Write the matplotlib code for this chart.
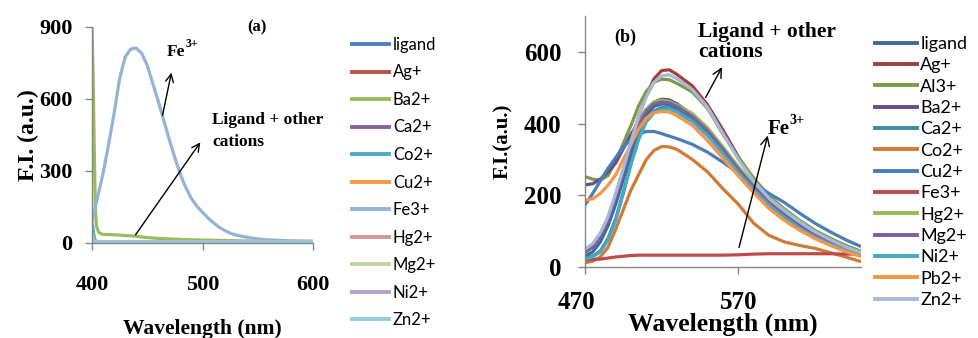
import matplotlib
matplotlib.use("Agg")
import matplotlib.pyplot as plt
from matplotlib.lines import Line2D
from matplotlib.transforms import ScaledTranslation

# ---------------- panel (a): emission spectra, excitation region ----------------
wl_a = [400, 401, 402, 403, 404, 406, 408, 410, 415, 420, 425, 430, 435, 440, 445,
        450, 455, 460, 465, 470, 475, 480, 485, 490, 495, 500, 505, 510, 515, 520,
        525, 530, 540, 550, 560, 570, 580, 590, 600]
fe_a = [90, 110, 130, 150, 170, 210, 250, 290, 410, 540, 685, 775, 808, 812, 790,
        740, 665, 590, 510, 430, 355, 285, 230, 185, 153, 128, 104, 84, 66, 52,
        41, 33, 24, 17, 13, 11, 9, 8, 7]
ba_a = [900, 700, 400, 150, 70, 45, 39, 36, 35, 34, 33, 31, 30, 28, 25,
        23, 21, 19, 18, 17, 16, 15, 14, 13, 13, 12, 12, 11, 11, 10,
        10, 9, 8, 7, 6, 5, 5, 4, 4]

wl_a_minor = [400, 401, 402, 403, 404, 406, 410, 450, 500, 550, 600]
ligand_a = [20, 10, 6, 5, 4, 4, 4, 4, 4, 4, 4]
ag_a = [25, 12, 7, 5, 4, 4, 4, 4, 4, 4, 4]
ca_a = [20, 10, 6, 5, 4, 4, 4, 4, 4, 4, 3]
co_a = [85, 55, 25, 10, 5, 4, 3, 3, 3, 3, 2]
cu_a = [15, 8, 5, 4, 4, 4, 5, 6, 5, 4, 3]
hg_a = [45, 25, 12, 8, 6, 6, 6, 6, 6, 7, 7]
mg_a = [15, 8, 5, 4, 4, 4, 4, 4, 4, 4, 3]
ni_a = [20, 10, 6, 5, 4, 4, 4, 4, 4, 4, 3]
zn_a = [30, 15, 8, 6, 5, 5, 5, 5, 5, 5, 5]

labels_a = ["ligand", "Ag+", "Ba2+", "Ca2+", "Co2+", "Cu2+", "Fe3+",
            "Hg2+", "Mg2+", "Ni2+", "Zn2+"]
colors_a = ["#4F81BD", "#C0504D", "#9BBB59", "#8064A2", "#4BACC6", "#F79646",
            "#95B3D7", "#D99694", "#C3D69B", "#B3A2C7", "#93CDDD"]
series_a = [(wl_a_minor, ligand_a), (wl_a_minor, ag_a), (wl_a, ba_a),
            (wl_a_minor, ca_a), (wl_a_minor, co_a), (wl_a_minor, cu_a),
            (wl_a, fe_a), (wl_a_minor, hg_a), (wl_a_minor, mg_a),
            (wl_a_minor, ni_a), (wl_a_minor, zn_a)]
xticks_a = [400, 500, 600]
yticks_a = [0, 300, 600, 900]

# ---------------- panel (b): emission spectra, 470-650 nm ----------------
wl_b = [470, 475, 480, 485, 490, 495, 500, 505, 510, 515, 520, 525, 530,
        540, 550, 560, 570, 580, 590, 600, 610, 620, 630, 640, 650]
ligand_b = [30, 42, 70, 115, 175, 245, 315, 380, 425, 448, 455, 453, 443,
            416, 376, 325, 272, 223, 178, 144, 114, 88, 68, 50, 36]
ag_b = [47, 62, 90, 135, 200, 270, 345, 420, 478, 525, 548, 550, 537,
        505, 452, 382, 307, 245, 195, 157, 125, 100, 78, 58, 42]
al_b = [252, 245, 242, 255, 295, 345, 395, 450, 490, 515, 524, 522, 512,
        488, 442, 370, 305, 248, 198, 162, 130, 102, 80, 60, 44]
ba_b = [229, 232, 245, 265, 290, 330, 370, 405, 440, 460, 468, 466, 455,
        425, 385, 330, 275, 225, 180, 146, 116, 90, 70, 52, 37]
ca_b = [25, 30, 45, 80, 135, 210, 290, 360, 410, 435, 445, 444, 436,
        410, 372, 322, 268, 220, 176, 142, 112, 86, 66, 49, 35]
co_b = [12, 16, 28, 55, 105, 160, 215, 258, 300, 325, 336, 335, 328,
        300, 265, 218, 175, 122, 88, 70, 60, 52, 40, 28, 15]
cu_b = [173, 205, 240, 275, 305, 335, 355, 370, 378, 378, 372, 365, 358,
        342, 320, 292, 262, 234, 205, 180, 150, 122, 98, 76, 57]
fe_b = [20, 21, 22, 25, 28, 30, 32, 33, 33, 33, 33, 33, 33,
        33, 33, 33, 34, 36, 37, 37, 37, 37, 37, 36, 36]
hg_b = [45, 60, 90, 138, 200, 270, 340, 400, 440, 460, 465, 462, 452,
        428, 388, 335, 280, 230, 185, 150, 120, 94, 73, 54, 40]
mg_b = [40, 55, 85, 130, 195, 265, 335, 395, 435, 455, 460, 458, 448,
        420, 380, 328, 273, 224, 179, 145, 115, 89, 69, 51, 36]
ni_b = [22, 28, 42, 75, 130, 205, 285, 355, 405, 430, 440, 440, 432,
        405, 366, 316, 263, 215, 172, 138, 108, 83, 64, 47, 33]
pb_b = [187, 190, 205, 228, 257, 300, 342, 385, 415, 430, 434, 432, 422,
        395, 352, 303, 254, 207, 163, 130, 102, 79, 60, 43, 29]
zn_b = [50, 65, 95, 140, 205, 275, 350, 420, 475, 515, 533, 536, 525,
        495, 445, 372, 300, 240, 192, 158, 126, 98, 76, 56, 40]

labels_b = ["ligand", "Ag+", "Al3+", "Ba2+", "Ca2+", "Co2+", "Cu2+",
            "Fe3+", "Hg2+", "Mg2+", "Ni2+", "Pb2+", "Zn2+"]
colors_b = ["#3F689C", "#A43E3B", "#7E9A44", "#664F85", "#3A8DA3", "#D07A35",
            "#4A7EBB", "#BE4B48", "#98B954", "#7D60A0", "#46AAC5", "#F79646",
            "#A5B9D9"]
series_b = [ligand_b, ag_b, al_b, ba_b, ca_b, co_b, cu_b, fe_b, hg_b, mg_b,
            ni_b, pb_b, zn_b]
xticks_b = [470, 570]
yticks_b = [0, 200, 400, 600]

# ---------------- figure ----------------
W, H = 979, 338
fig = plt.figure(figsize=(W / 100, H / 100), dpi=100)
SERIF = "Liberation Serif"
SANS = "Lato"
AXIS_GREY = "#868686"


def px_axes(x0, y0, x1, y1):
    """Axes from pixel box (left, top, right, bottom)."""
    return fig.add_axes([x0 / W, 1 - y1 / H, (x1 - x0) / W, (y1 - y0) / H])


def style_axes(ax, fs, xpad, ypad):
    for side in ("top", "right"):
        ax.spines[side].set_visible(False)
    for side in ("left", "bottom"):
        ax.spines[side].set_color(AXIS_GREY)
        ax.spines[side].set_linewidth(1.0)
    ax.tick_params(axis="both", direction="out", length=5, width=1,
                   color=AXIS_GREY, labelsize=fs)
    ax.tick_params(axis="x", pad=xpad)
    ax.tick_params(axis="y", pad=ypad)
    for lab in ax.get_xticklabels() + ax.get_yticklabels():
        lab.set_fontfamily(SERIF)
        lab.set_fontweight("bold")


def ion_label(ax, x, y, fs):
    """Bold 'Fe' with a raised '3+' charge."""
    t = ax.text(x, y, "Fe", fontfamily=SERIF, fontweight="bold",
                fontsize=fs, ha="left", va="center")
    ax.annotate("3+", xy=(1.0, 0.62), xycoords=t, fontfamily=SERIF,
                fontweight="bold", fontsize=fs * 0.68, ha="left",
                va="bottom")


# panel (a)
ax1 = px_axes(92, 27, 313, 243)
for (x, y), c in zip(series_a, colors_a):
    ax1.plot(x, y, color=c, lw=2.3, solid_capstyle="butt")
ax1.set_xlim(400, 600)
ax1.set_ylim(0, 900)
ax1.set_xticks(xticks_a)
ax1.set_yticks(yticks_a)
style_axes(ax1, 16, 18, 9)
ax1.set_xlabel("Wavelength (nm)", fontfamily=SERIF, fontweight="bold",
               fontsize=15.5, labelpad=17)
ax1.set_ylabel("F.I. (a.u.)", fontfamily=SERIF, fontweight="bold",
               fontsize=17, labelpad=0)
ax1.text(0.745, 1.0, "(a)", transform=ax1.transAxes, fontfamily=SERIF,
         fontweight="bold", fontsize=12, ha="center", va="center")
ax1.annotate("", xy=(472.4, 721), xytext=(463.3, 521),
             arrowprops=dict(arrowstyle="->", color="black", lw=1,
                             mutation_scale=14))
ion_label(ax1, 467.5, 795, 12.5)
ax1.annotate("", xy=(499.5, 429), xytext=(438, 25),
             arrowprops=dict(arrowstyle="->", color="black", lw=1,
                             mutation_scale=14))
ax1.text(508.5, 545, "Ligand + other\ncations", fontfamily=SERIF,
         fontweight="bold", fontsize=12.5, ha="left", va="top",
         linespacing=1.5)

handles_a = [Line2D([], [], color=c, lw=2.8) for c in colors_a]
fig.legend(handles_a, labels_a, loc="upper left",
           bbox_to_anchor=(352 / W, 1 - 37 / H), frameon=False,
           prop={"family": SANS, "size": 12}, handlelength=2.2,
           handletextpad=0.25, labelspacing=0.69, borderpad=0,
           borderaxespad=0)

# panel (b)
ax2 = px_axes(585, 16, 861, 267)
for y, c in zip(series_b, colors_b):
    ax2.plot(wl_b, y, color=c, lw=2.3, solid_capstyle="butt")
ax2.set_xlim(470, 650)
ax2.set_ylim(0, 700)
ax2.set_xticks(xticks_b)
ax2.set_yticks(yticks_b)
style_axes(ax2, 18, 12.5, 12)
first = ax2.get_xticklabels()[0]
first.set_transform(first.get_transform()
                    + ScaledTranslation(-0.09, 0, fig.dpi_scale_trans))
ax2.set_xlabel("Wavelength (nm)", fontfamily=SERIF, fontweight="bold",
               fontsize=18.5, labelpad=-1.5)
ax2.set_ylabel("F.I.(a.u.)", fontfamily=SERIF, fontweight="bold",
               fontsize=15, labelpad=8)
ax2.text(0.145, 0.916, "(b)", transform=ax2.transAxes, fontfamily=SERIF,
         fontweight="bold", fontsize=13, ha="center", va="center")
ax2.annotate("", xy=(560.2, 564), xytext=(547.8, 466),
             arrowprops=dict(arrowstyle="->", color="black", lw=1,
                             mutation_scale=16))
ax2.text(544, 683, "Ligand + other\ncations", fontfamily=SERIF,
         fontweight="bold", fontsize=15.5, ha="left", va="top",
         linespacing=1.0)
ax2.annotate("", xy=(589.6, 374), xytext=(570, 47),
             arrowprops=dict(arrowstyle="->", color="black", lw=1,
                             mutation_scale=16))
ion_label(ax2, 589, 385, 15)

handles_b = [Line2D([], [], color=c, lw=2.8) for c in colors_b]
fig.legend(handles_b, labels_b, loc="upper left",
           bbox_to_anchor=(875 / W, 1 - 36 / H), frameon=False,
           prop={"family": SANS, "size": 13}, handlelength=2.3,
           handletextpad=0.2, labelspacing=0.295, borderpad=0,
           borderaxespad=0)

fig.savefig("out.png", dpi=100)
